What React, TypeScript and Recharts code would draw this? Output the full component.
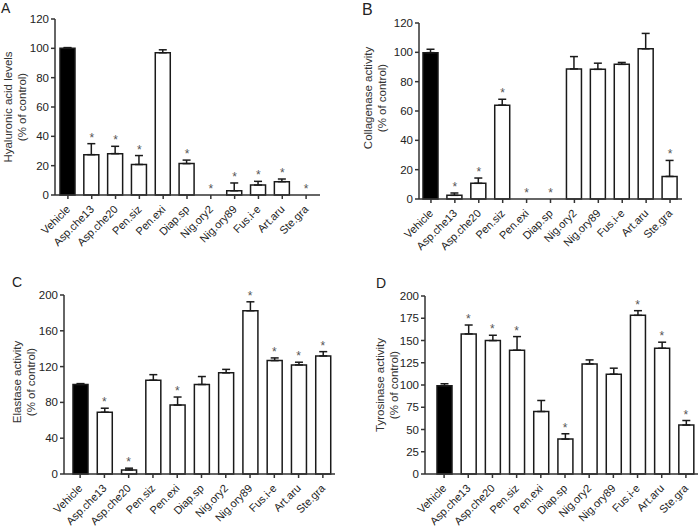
import React from 'react';
import { ComposedChart, Bar, Line, XAxis, YAxis, ErrorBar, Cell } from 'recharts';

const categories = ['Vehicle', 'Asp.che13', 'Asp.che20', 'Pen.siz', 'Pen.exi', 'Diap.sp', 'Nig.ory2', 'Nig.ory89', 'Fus.i-e', 'Art.aru', 'Ste.gra'];

const hyaluronicValues = [100, 27.5, 28.2, 20.8, 97, 21.4, 0, 2.9, 6.8, 9.1, 0];
const hyaluronicErrors = [0.5, 7.5, 5, 6.1, 2, 2.4, 0, 5.3, 2.5, 1.8, 0];
const hyaluronicStars = [0, 1, 1, 1, 0, 1, 1, 1, 1, 1, 1];
const hyaluronicTicks = [0, 20, 40, 60, 80, 100, 120];

const collagenaseValues = [99.8, 2.5, 10.7, 64, 0, 0, 88.7, 88.4, 91.8, 102.4, 15.4];
const collagenaseErrors = [2.3, 1.6, 3.6, 4, 0, 0, 8.4, 4.2, 1.3, 10.5, 10.9];
const collagenaseStars = [0, 1, 1, 1, 1, 1, 0, 0, 0, 0, 1];
const collagenaseTicks = [0, 20, 40, 60, 80, 100, 120];

const elastaseValues = [100, 69, 4.5, 104.8, 77, 100, 113, 182.4, 126.7, 121.9, 131.9];
const elastaseErrors = [1, 4.5, 2, 6.2, 9, 8.9, 3.9, 10, 3, 3, 4.8];
const elastaseStars = [0, 1, 1, 0, 1, 0, 0, 1, 1, 1, 1];
const elastaseTicks = [0, 40, 80, 120, 160, 200];

const tyrosinaseValues = [99.2, 157.4, 149.9, 139.1, 70.2, 39.2, 123.7, 112.2, 178.3, 141.3, 55];
const tyrosinaseErrors = [2.2, 10, 6, 15.3, 12.4, 6, 4.5, 6.7, 5.2, 6.8, 5.1];
const tyrosinaseStars = [0, 1, 1, 1, 0, 1, 0, 0, 1, 1, 1];
const tyrosinaseTicks = [0, 25, 50, 75, 100, 125, 150, 175, 200];

const FONT = '"Liberation Sans", Arial, sans-serif';

function buildData(values: number[], errors: number[], stars: number[]) {
  return categories.map((name, i) => ({
    name,
    value: values[i],
    err: [0, errors[i]],
    star: stars[i] ? values[i] + errors[i] : null,
  }));
}

const XTick = (props: any) => {
  const { x, y, payload } = props;
  return (
    <g transform={`translate(${x + 3},${y + 9})`}>
      <text x={0} y={0} textAnchor="end" transform="rotate(-45)" fontSize={11} fill="#222" fontFamily={FONT}>
        {payload.value}
      </text>
    </g>
  );
};

const StarDot = (props: any) => {
  const { cx, cy, index, payload } = props;
  if (cy == null || payload.star == null || isNaN(cy)) return <g key={`s${index}`} />;
  return (
    <text key={`s${index}`} x={cx} y={cy - 2} textAnchor="middle" fontSize={12} fill="#555" stroke="none" fontFamily={FONT}>
      *
    </text>
  );
};

type PanelProps = {
  left: number;
  top: number;
  width: number;
  height: number;
  margin: { top: number; right: number; left: number; bottom: number };
  xHeight: number;
  padLeft: number;
  padRight: number;
  values: number[];
  errors: number[];
  stars: number[];
  ticks: number[];
};

const Panel = (p: PanelProps) => {
  const data = buildData(p.values, p.errors, p.stars);
  const max = p.ticks[p.ticks.length - 1];
  return (
    <div style={{ position: 'absolute', left: p.left, top: p.top, width: p.width, height: p.height }}>
      <ComposedChart width={p.width} height={p.height} data={data} margin={p.margin} style={{ overflow: 'visible' }}>
        <XAxis
          dataKey="name"
          interval={0}
          height={p.xHeight}
          tick={<XTick />}
          tickSize={4}
          tickMargin={2}
          stroke="#333"
          strokeWidth={1.5}
          padding={{ left: p.padLeft, right: p.padRight }}
        />
        <YAxis
          width={40}
          domain={[0, max]}
          ticks={p.ticks}
          interval={0}
          tickSize={4}
          tickMargin={2}
          stroke="#333"
          strokeWidth={1.5}
          tick={{ fontSize: 11.5, fill: '#222', fontFamily: FONT }}
        />
        <Bar dataKey="value" barSize={15} stroke="#1a1a1a" strokeWidth={1.5} isAnimationActive={false}>
          {data.map((d, i) => (
            <Cell key={i} fill={i === 0 ? '#000' : '#fff'} />
          ))}
          <ErrorBar dataKey="err" width={4} stroke="#1a1a1a" strokeWidth={1.5} direction="y" />
        </Bar>
        <Line
          dataKey="star"
          stroke="none"
          fill="#555"
          dot={StarDot}
          activeDot={false}
          isAnimationActive={false}
          connectNulls={false}
        />
      </ComposedChart>
    </div>
  );
};

const YLabel = ({ cx, cy, lines, dx }: { cx: number; cy: number; lines: string[]; dx: number }) => (
  <g>
    {lines.map((l, i) => (
      <text
        key={i}
        x={cx + i * dx}
        y={cy}
        transform={`rotate(-90, ${cx + i * dx}, ${cy})`}
        textAnchor="middle"
        dominantBaseline="central"
        fontSize={11.5}
        fill="#333"
        fontFamily={FONT}
      >
        {l}
      </text>
    ))}
  </g>
);

export default function App() {
  return (
    <div style={{ position: 'absolute', left: 0, top: 0, width: 700, height: 527, background: '#fff', overflow: 'hidden' }}>
      <Panel
        left={0} top={0} width={350} height={265}
        margin={{ top: 19, right: 30, left: 15, bottom: 0 }}
        xHeight={70} padLeft={1} padRight={2}
        values={hyaluronicValues} errors={hyaluronicErrors} stars={hyaluronicStars} ticks={hyaluronicTicks}
      />
      <Panel
        left={350} top={0} width={350} height={265}
        margin={{ top: 23, right: 18, left: 29, bottom: 0 }}
        xHeight={66} padLeft={0} padRight={0}
        values={collagenaseValues} errors={collagenaseErrors} stars={collagenaseStars} ticks={collagenaseTicks}
      />
      <Panel
        left={0} top={263} width={350} height={264}
        margin={{ top: 32, right: 15, left: 24, bottom: 0 }}
        xHeight={53} padLeft={4} padRight={0}
        values={elastaseValues} errors={elastaseErrors} stars={elastaseStars} ticks={elastaseTicks}
      />
      <Panel
        left={350} top={263} width={350} height={264}
        margin={{ top: 33, right: 2, left: 35, bottom: 0 }}
        xHeight={53} padLeft={7} padRight={0}
        values={tyrosinaseValues} errors={tyrosinaseErrors} stars={tyrosinaseStars} ticks={tyrosinaseTicks}
      />
      <svg width={700} height={527} style={{ position: 'absolute', left: 0, top: 0, pointerEvents: 'none' }}>
        <text x={1} y={13} fontSize={14} fill="#222" fontFamily={FONT}>A</text>
        <text x={362} y={15} fontSize={16} fill="#222" fontFamily={FONT}>B</text>
        <text x={12} y={287} fontSize={14} fill="#222" fontFamily={FONT}>C</text>
        <text x={376} y={288} fontSize={14} fill="#222" fontFamily={FONT}>D</text>
        <YLabel cx={8} cy={107} dx={13.5} lines={['Hyaluronic acid levels', '(% of control)']} />
        <YLabel cx={368} cy={98} dx={13.5} lines={['Collagenase activity', '(% of control)']} />
        <YLabel cx={17} cy={382} dx={14} lines={['Elastase activity', '(% of control)']} />
        <YLabel cx={380} cy={385} dx={13.5} lines={['Tyrosinase activity', '(% of control)']} />
      </svg>
    </div>
  );
}
